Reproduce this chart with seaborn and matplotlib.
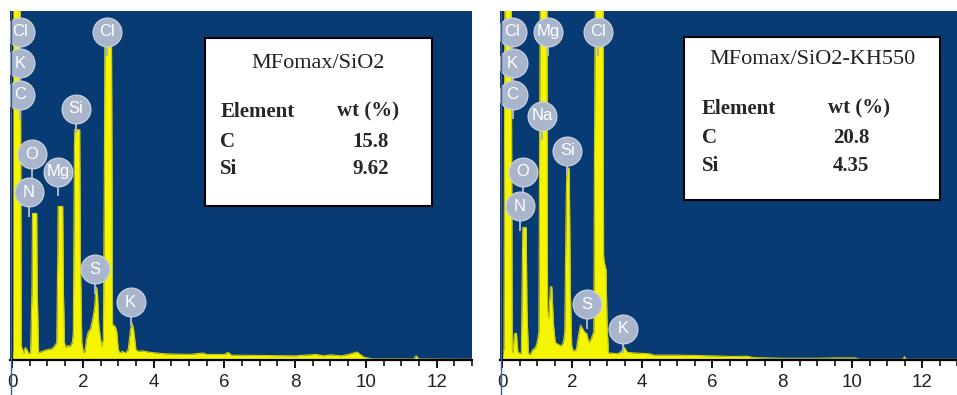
import matplotlib
matplotlib.use("Agg")
import matplotlib.pyplot as plt
import seaborn as sns
import pandas as pd
from matplotlib.patches import Rectangle
from matplotlib.lines import Line2D

# ---------------- data ----------------
left_kev = [0.00, 0.02, 0.03, 0.23, 0.26, 0.33, 0.37, 0.42, 0.47, 0.52, 0.56, 0.575, 0.695, 0.71, 0.75,
            0.85, 1.00, 1.12, 1.20, 1.26, 1.29, 1.30, 1.43, 1.45, 1.48, 1.52, 1.58, 1.64, 1.70,
            1.73, 1.76, 1.77, 1.91, 1.93, 1.97, 2.02, 2.06, 2.10, 2.15, 2.22, 2.28, 2.33, 2.37,
            2.41, 2.45, 2.50, 2.53, 2.58, 2.61, 2.62, 2.81, 2.83, 2.84, 2.86, 2.92, 2.96, 3.00,
            3.05, 3.12, 3.20, 3.28, 3.35, 3.39, 3.43, 3.50, 3.55, 3.70, 3.90, 4.30, 5.00, 5.40,
            5.50, 6.00, 6.10, 6.20, 7.00, 8.00, 8.60, 8.80, 9.00, 9.30, 9.50, 9.75, 9.85, 9.95,
            10.2, 11.35, 11.42, 11.50, 13.0]
left_int = [1.0, 3.0, 110, 110, 4.0, 2.0, 3.6, 3.0, 1.8, 2.0, 20, 42, 42, 20, 2.0,
            2.5, 3.0, 3.2, 4.0, 5.0, 30, 44, 44, 20, 5.0, 3.5, 4.2, 3.8, 5.0,
            8.0, 60, 66, 66, 30, 5.0, 2.0, 2.5, 6.0, 8.0, 9.0, 12, 15, 21,
            20, 10, 6.0, 4.0, 6.0, 60, 91, 91, 40, 10, 10, 9.5, 8.0, 3.0,
            2.0, 2.5, 2.0, 3.0, 9.0, 10.6, 9.0, 3.0, 2.5, 2.6, 2.2, 1.8, 1.6, 2.0,
            1.6, 1.6, 2.2, 1.4, 1.3, 1.2, 1.6, 1.2, 1.5, 1.2, 1.6, 2.3, 1.5, 0.8,
            0.3, 0.3, 1.2, 0.3, 0.2]

right_kev = [0.00, 0.05, 0.08, 0.26, 0.29, 0.31, 0.35, 0.41, 0.45, 0.50, 0.55, 0.57, 0.59, 0.69,
             0.71, 0.75, 0.80, 0.88, 0.95, 1.00, 1.05, 1.09, 1.28, 1.30, 1.33, 1.38, 1.42, 1.47,
             1.52, 1.60, 1.68, 1.75, 1.79, 1.83, 1.85, 1.92, 1.95, 1.99, 2.04, 2.12, 2.18, 2.24,
             2.30, 2.36, 2.42, 2.48, 2.54, 2.62, 2.66, 2.89, 2.90, 2.92, 2.97, 3.00, 3.04, 3.10,
             3.30, 3.42, 3.47, 3.52, 3.58, 3.80, 4.20, 4.35, 5.00, 6.00, 6.60, 7.00, 7.20, 8.00,
             9.00, 9.50, 10.1, 10.2, 11.45, 11.50, 11.55, 13.0]
right_int = [1.0, 3.0, 110, 110, 3.0, 2.0, 7.5, 7.7, 2.5, 1.8, 2.0, 20, 38, 38,
             15, 2.0, 1.5, 3.0, 3.5, 5.0, 8.0, 110, 110, 14, 12, 21, 21, 10,
             5.0, 4.5, 4.0, 5.0, 8.0, 45, 55, 55, 20, 4.0, 2.5, 3.0, 7.0, 10,
             9.0, 8.0, 7.5, 5.0, 6.0, 8.0, 110, 110, 30, 28, 26, 10, 2.0, 2.0,
             1.8, 2.5, 3.8, 3.2, 2.2, 2.0, 1.8, 1.4, 1.4, 1.2, 1.0, 1.1, 0.7, 0.5,
             0.5, 0.6, 0.6, 0.2, 0.2, 1.0, 0.2, 0.2]

left_labels = ["Cl", "K", "C", "O", "Mg", "N", "Si", "Cl", "S", "K"]
left_label_kev = [0.22, 0.22, 0.22, 0.56, 1.30, 0.48, 1.80, 2.68, 2.34, 3.35]
left_label_val = [94, 85, 76, 59, 54, 48, 72, 94, 26, 16.6]

right_labels = ["Cl", "K", "C", "Mg", "Na", "Cl", "Si", "O", "N", "S", "K"]
right_label_kev = [0.28, 0.30, 0.30, 1.31, 1.14, 2.74, 1.86, 0.60, 0.51, 2.43, 3.46]
right_label_val = [94, 85, 76, 94, 70, 94, 60, 54, 44, 16, 9]

titles = ["MFomax/SiO2", "MFomax/SiO2-KH550"]
table_elements = ["C", "Si"]
left_wt = ["15.8", "9.62"]
right_wt = ["20.8", "4.35"]

xtick_major = [0, 2, 4, 6, 8, 10, 12]

# ---------------- styling ----------------
sns.set_style("white")
plt.rcParams["font.family"] = ["Liberation Sans", "DejaVu Sans"]

BG = "#083a74"
YEL = "#f5f500"
BADGE = "#a9b5ca"

fig = plt.figure(figsize=(9.57, 3.95), dpi=100)
W, H = 957, 395


def px_axes(x0, x1, y0, y1):
    return [x0 / W, (H - y1) / H, (x1 - x0) / W, (y1 - y0) / H]


ax_l = fig.add_axes(px_axes(10, 472, 11, 360))
ax_r = fig.add_axes(px_axes(500, 957, 11, 360))

panels = [
    (ax_l, left_kev, left_int, left_labels, left_label_kev, left_label_val, titles[0], left_wt,
     (0.422, 0.913, 0.441, 0.923), 0.667, 0.851, 0.455, 0.708, 0.740),
    (ax_r, right_kev, right_int, right_labels, right_label_kev, right_label_val, titles[1], right_wt,
     (0.403, 0.963, 0.458, 0.925), 0.683, 0.860, 0.442, 0.718, 0.729),
]

for (ax, kev, inten, labs, lk, lv, title, wt, box, tx, ty, ex, wx, vx) in panels:
    df = pd.DataFrame({"keV": kev, "counts": inten})
    ax.set_facecolor(BG)
    ax.fill_between(df["keV"], 0, df["counts"], color=YEL, lw=0, zorder=2)
    sns.lineplot(data=df, x="keV", y="counts", ax=ax, color="#c8c818", lw=0.8, zorder=3, sort=False)
    ax.axvline(0, color="#101a30", lw=1.0, zorder=4)

    ax.set_xlim(-0.06, 13.0)
    ax.set_ylim(0, 100)
    ax.set_xlabel("")
    ax.set_ylabel("")
    ax.set_yticks([])
    ax.set_xticks(xtick_major)
    ax.set_xticklabels([str(t) for t in xtick_major], fontsize=13.5, color="#222222")
    ax.set_xticks([t * 0.5 for t in range(0, 27)], minor=True)
    ax.tick_params(axis="x", which="major", direction="out", length=6, width=1.3,
                   color="black", pad=4, bottom=True)
    ax.tick_params(axis="x", which="minor", direction="out", length=4, width=1.1,
                   color="black", bottom=True)
    for s in ["top", "right", "left"]:
        ax.spines[s].set_visible(False)
    ax.spines["bottom"].set_color("black")
    ax.spines["bottom"].set_linewidth(1.6)
    ax.spines["bottom"].set_zorder(6)

    # element badges
    ax.vlines(lk, [v - 7.0 for v in lv], lv, color=BADGE, lw=1.4, zorder=7)
    ax.scatter(lk, lv, s=430, color=BADGE, edgecolor="#c9d1de", linewidth=0.9, zorder=8)
    for name, x, y in zip(labs, lk, lv):
        ax.text(x, y, name, color="white", fontsize=12, ha="center", va="center",
                zorder=9, clip_on=True)

    # info box
    x0, x1, y0, y1 = box
    ax.add_patch(Rectangle((x0, y0), x1 - x0, y1 - y0, transform=ax.transAxes,
                           facecolor="white", edgecolor="black", lw=1.5, zorder=10))
    serif = ["Liberation Serif", "DejaVu Serif"]
    ax.text(tx, ty, title, transform=ax.transAxes, ha="center", va="center",
            fontsize=16, family=serif, color="#222222", zorder=11)
    rows_y = [ty - 0.14, ty - 0.225, ty - 0.305]
    ax.text(ex, rows_y[0], "Element", transform=ax.transAxes, ha="left", va="center",
            fontsize=15, family=serif, fontweight="bold", zorder=11)
    ax.text(wx, rows_y[0], "wt (%)", transform=ax.transAxes, ha="left", va="center",
            fontsize=15, family=serif, fontweight="bold", zorder=11)
    for el, val, yy in zip(table_elements, wt, rows_y[1:]):
        ax.text(ex, yy, el, transform=ax.transAxes, ha="left", va="center",
                fontsize=15, family=serif, fontweight="bold", zorder=11)
        ax.text(vx, yy, val, transform=ax.transAxes, ha="left", va="center",
                fontsize=15, family=serif, fontweight="bold", zorder=11)

# thin panel border lines at the left of each panel
for xpix in [10.5, 500.5]:
    fig.add_artist(Line2D([xpix / W, xpix / W], [0, (H - 11) / H], transform=fig.transFigure,
                          color="#3a5f95", lw=1.0))

fig.savefig("out.png", dpi=100, facecolor="white")
